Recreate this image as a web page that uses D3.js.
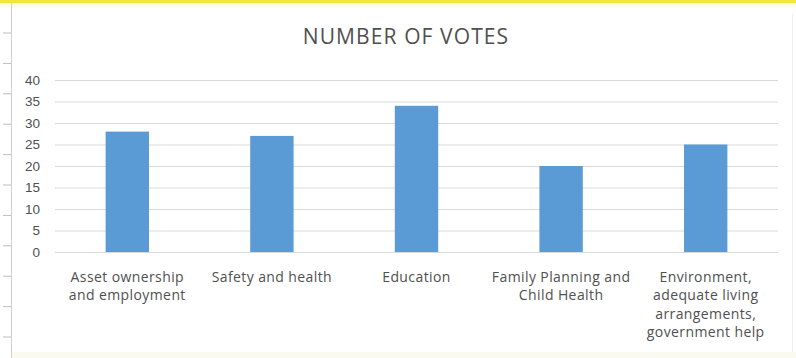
<!DOCTYPE html>
<html lang="en">
<head>
<meta charset="UTF-8">
<title>Number of votes</title>
<script src="https://d3js.org/d3.v7.min.js"></script>
<style>
  body { margin: 0; background: #fff; }
  svg { display: block; font-family: "Open Sans", sans-serif; }
  .tick text { fill: #505050; }
</style>
</head>
<body>
<svg width="796" height="358"></svg>
<script>
// data
const categories = ["Asset ownership and employment", "Safety and health", "Education",
  "Family Planning and Child Health", "Environment, adequate living arrangements, government help"];
const labelLines = [
  ["Asset ownership", "and employment"],
  ["Safety and health"],
  ["Education"],
  ["Family Planning and", "Child Health"],
  ["Environment,", "adequate living", "arrangements,", "government help"]
];
const votes = [28, 27, 34, 20, 25];
const yTicks = [0, 5, 10, 15, 20, 25, 30, 35, 40];

const svg = d3.select("svg");
const W = 796, H = 358;
const margin = {left: 55, right: 18, top: 80, bottom: 106};

// spreadsheet frame around the chart
svg.append("rect").attr("x", 0).attr("y", 0).attr("width", W).attr("height", 3).attr("fill", "#f3e53a");
svg.append("rect").attr("x", 0).attr("y", 3).attr("width", W).attr("height", 4).attr("fill", "#fdfbe6");
svg.append("line").attr("x1", 11.5).attr("x2", 11.5).attr("y1", 3).attr("y2", H)
  .attr("stroke", "#cfcfcf");
svg.append("line").attr("x1", 792.5).attr("x2", 792.5).attr("y1", 14).attr("y2", H)
  .attr("stroke", "#eeeeee");
svg.append("rect").attr("x", 12).attr("y", 352).attr("width", W - 12).attr("height", 6).attr("fill", "#fbfaf0");
d3.range(33, H, 30.4).forEach(y => {
  svg.append("line").attr("x1", 3).attr("x2", 11).attr("y1", y).attr("y2", y)
    .attr("stroke", "#bdbdbd");
});

const x = d3.scaleBand()
  .domain(categories)
  .range([margin.left, W - margin.right])
  .paddingInner(0.7)
  .paddingOuter(0.35);

const y = d3.scaleLinear()
  .domain([0, 40])
  .range([H - margin.bottom, margin.top]);

// gridlines + y labels
const yAxis = svg.append("g")
  .attr("transform", `translate(${margin.left},0)`)
  .call(d3.axisLeft(y).tickValues(yTicks).tickSize(-(W - margin.left - margin.right)).tickPadding(15));
yAxis.select(".domain").remove();
yAxis.selectAll(".tick line").attr("stroke", "#d9d9d9");
yAxis.selectAll(".tick text").attr("font-size", 13.5);

svg.append("g")
  .selectAll("rect")
  .data(votes)
  .join("rect")
  .attr("x", (d, i) => x(categories[i]))
  .attr("y", d => y(d))
  .attr("width", x.bandwidth())
  .attr("height", d => y(0) - y(d))
  .attr("fill", "#5b9bd5");

// category labels
const lab = svg.append("g")
  .selectAll("text")
  .data(categories)
  .join("text")
  .attr("text-anchor", "middle")
  .attr("font-size", 14)
  .attr("letter-spacing", 0.4)
  .attr("fill", "#505050")
  .attr("transform", d => `translate(${x(d) + x.bandwidth() / 2},282)`);
lab.selectAll("tspan")
  .data((d, i) => labelLines[i])
  .join("tspan")
  .attr("x", 0)
  .attr("y", (d, i) => i * 18.4)
  .text(d => d);

svg.append("text")
  .attr("x", 406)
  .attr("y", 44)
  .attr("text-anchor", "middle")
  .attr("font-size", 21)
  .attr("letter-spacing", 1.1)
  .attr("fill", "#505050")
  .text("NUMBER OF VOTES");
</script>
</body>
</html>
